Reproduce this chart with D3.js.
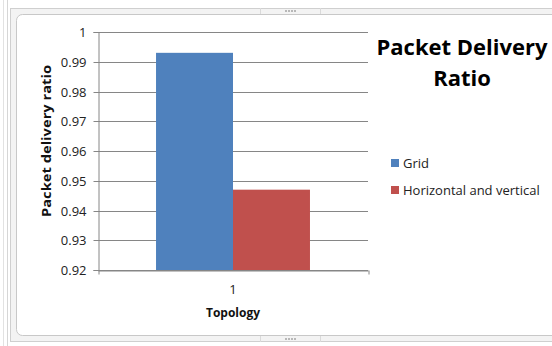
<!DOCTYPE html>
<html>
<head>
<meta charset="utf-8">
<script src="https://cdn.jsdelivr.net/npm/d3@7"></script>
<style>
  html, body { margin: 0; padding: 0; background: #fff; }
  svg { display: block; }
  text { font-family: "Open Sans", "Noto Sans", sans-serif; }
</style>
</head>
<body>
<svg id="chart" width="552" height="346"></svg>
<script>
// Chart data
const categories = ["1"];
const seriesNames = ["Grid", "Horizontal and vertical"];
const seriesValues = [[0.993], [0.947]];
const seriesColors = ["#4f81bd", "#c0504d"];
const yTicks = [0.92, 0.93, 0.94, 0.95, 0.96, 0.97, 0.98, 0.99, 1];
const yTickLabels = ["0.92", "0.93", "0.94", "0.95", "0.96", "0.97", "0.98", "0.99", "1"];

const svg = d3.select("#chart");
const W = 552, H = 346;

// Sheet background with faint cell lines
const sheet = svg.append("g");
sheet.append("rect").attr("width", W).attr("height", H).attr("fill", "#ffffff");
sheet.append("line").attr("x1", 3.5).attr("x2", 3.5).attr("y1", 0).attr("y2", H).attr("stroke", "#e2e2e2");
sheet.append("line").attr("x1", 7.5).attr("x2", 7.5).attr("y1", 0).attr("y2", H).attr("stroke", "#d6d6d6");

// Chart frame (selection border)
sheet.append("rect").attr("x", 10.5).attr("y", 8.5).attr("width", 560).attr("height", 333)
  .attr("fill", "#f3f3f3").attr("stroke", "#cfcfcf");
sheet.append("rect").attr("x", 16.5).attr("y", 14.5).attr("width", 560).attr("height", 321)
  .attr("rx", 6).attr("fill", "#ffffff").attr("stroke", "#c8c8c8");
[260, 320].forEach(x => {
  sheet.append("line").attr("x1", x + 0.5).attr("x2", x + 0.5).attr("y1", 8).attr("y2", 14).attr("stroke", "#dadada");
  sheet.append("line").attr("x1", x + 0.5).attr("x2", x + 0.5).attr("y1", 336).attr("y2", 342).attr("stroke", "#dadada");
});
[285, 288, 291, 294].forEach(x => {
  sheet.append("rect").attr("x", x).attr("y", 10).attr("width", 2).attr("height", 2).attr("fill", "#b8b8b8");
  sheet.append("rect").attr("x", x).attr("y", 338).attr("width", 2).attr("height", 2).attr("fill", "#b8b8b8");
});

// Plot area
const plot = { left: 98, right: 368, top: 32, bottom: 270 };
const y = d3.scaleLinear().domain([0.92, 1]).range([plot.bottom, plot.top]);
const x0 = d3.scaleBand().domain(categories).range([plot.left, plot.right]).paddingInner(0).paddingOuter(0.377);
const x1 = d3.scaleBand().domain(seriesNames).range([0, x0.bandwidth()]);

const axisColor = "#868686";

// Gridlines
svg.append("g").selectAll("line").data(yTicks).join("line")
  .attr("x1", plot.left).attr("x2", plot.right)
  .attr("y1", d => Math.round(y(d)) + 0.5).attr("y2", d => Math.round(y(d)) + 0.5)
  .attr("stroke", axisColor).attr("stroke-width", 1);

// Bars
const groups = svg.append("g").selectAll("g").data(categories).join("g")
  .attr("transform", d => `translate(${x0(d)},0)`);
groups.selectAll("rect").data((d, i) => seriesNames.map((s, j) => ({ s, v: seriesValues[j][i], c: seriesColors[j] })))
  .join("rect")
  .attr("x", d => x1(d.s))
  .attr("width", x1.bandwidth())
  .attr("y", d => y(d.v))
  .attr("height", d => y(0.92) - y(d.v))
  .attr("fill", d => d.c);

// Y axis
const yAxis = d3.axisLeft(y).tickValues(yTicks).tickFormat((d, i) => yTickLabels[i]).tickSize(5).tickPadding(7);
const gy = svg.append("g").attr("transform", `translate(${plot.left + 0.5},0)`).call(yAxis);
gy.select(".domain").attr("stroke", axisColor);
gy.selectAll(".tick line").attr("stroke", axisColor);
gy.selectAll(".tick").attr("transform", d => `translate(0,${Math.round(y(d)) + 0.5})`);
gy.selectAll("text").attr("fill", "#222").style("font-size", "13px");

// X axis
const xAxisScale = d3.scaleLinear().domain([0, 1]).range([plot.left, plot.right]);
const gx = svg.append("g").attr("transform", `translate(0,${plot.bottom + 0.5})`)
  .call(d3.axisBottom(xAxisScale).tickValues([0, 1]).tickFormat("").tickSize(4).tickSizeOuter(0));
gx.select(".domain").attr("stroke", axisColor);
gx.selectAll(".tick line").attr("stroke", axisColor).attr("transform", "translate(0.5,0)");

svg.append("g").selectAll("text").data(categories).join("text")
  .attr("x", d => x0(d) + x0.bandwidth() / 2)
  .attr("y", 294)
  .attr("text-anchor", "middle")
  .attr("fill", "#222")
  .style("font-size", "13px")
  .text(d => d);

// Axis titles
svg.append("text").attr("x", 233).attr("y", 317).attr("text-anchor", "middle")
  .attr("fill", "#111").style("font-size", "12px").style("font-weight", "bold").text("Topology");
svg.append("text").attr("transform", "translate(51,141) rotate(-90)").attr("text-anchor", "middle")
  .attr("fill", "#111").style("font-size", "13px").style("font-weight", "bold")
  .attr("textLength", 152).attr("lengthAdjust", "spacingAndGlyphs").text("Packet delivery ratio");

// Title
const title = svg.append("text").attr("text-anchor", "middle").attr("fill", "#000")
  .style("font-size", "22px").style("font-weight", "bold");
title.append("tspan").attr("x", 462).attr("y", 55).text("Packet Delivery");
title.append("tspan").attr("x", 462).attr("y", 86).text("Ratio");

// Legend
const legend = svg.append("g").selectAll("g").data(seriesNames).join("g")
  .attr("transform", (d, i) => `translate(391,${159 + i * 27})`);
legend.append("rect").attr("width", 8).attr("height", 8).attr("fill", (d, i) => seriesColors[i]);
legend.append("text").attr("x", 12).attr("y", 9).attr("fill", "#222")
  .style("font-size", "13px").text(d => d);
</script>
</body>
</html>
